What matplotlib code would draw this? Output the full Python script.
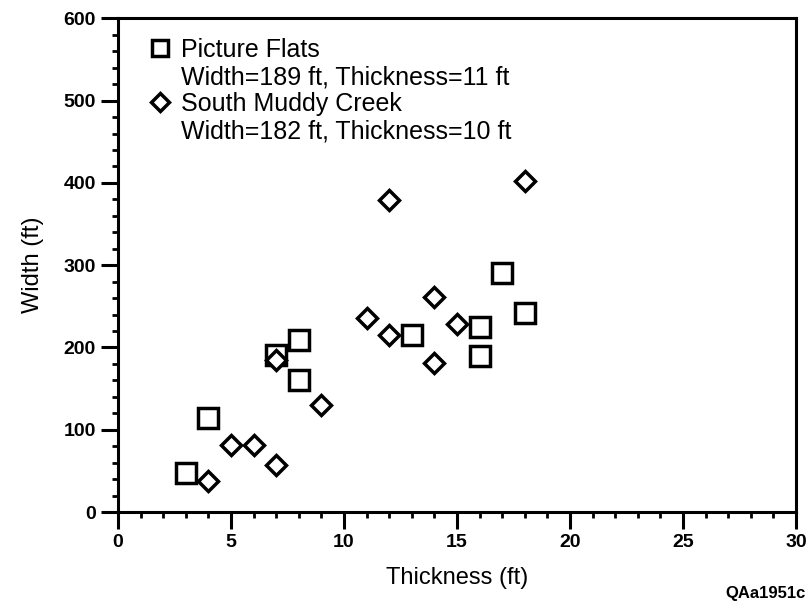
import matplotlib
matplotlib.use("Agg")
import matplotlib.pyplot as plt
from matplotlib.lines import Line2D
from matplotlib.ticker import MultipleLocator

# Picture Flats (squares)
pf_thick = [3, 4, 7, 8, 8, 13, 16, 16, 17, 18]
pf_width = [48, 114, 191, 209, 160, 215, 225, 190, 290, 242]

# South Muddy Creek (diamonds)
smc_thick = [4, 5, 6, 7, 7, 9, 11, 12, 12, 14, 14, 15, 18]
smc_width = [38, 81, 81, 57, 185, 130, 236, 379, 215, 261, 181, 228, 402]

legend_labels = ["Picture Flats", "Width=189 ft, Thickness=11 ft",
                 "South Muddy Creek", "Width=182 ft, Thickness=10 ft"]

plt.rcParams['font.family'] = ['Liberation Sans', 'DejaVu Sans']

fig = plt.figure(figsize=(8.09, 6.05), dpi=100)
ax = fig.add_axes([0.1459, 0.1537, 0.838, 0.816])

ax.plot(pf_thick, pf_width, 's', ms=14, mfc='white', mec='black', mew=2.5,
        linestyle='none')
ax.plot(smc_thick, smc_width, 'D', ms=10, mfc='white', mec='black', mew=2.5,
        linestyle='none')

ax.set_xlim(0, 30)
ax.set_ylim(0, 600)
ax.xaxis.set_major_locator(MultipleLocator(5))
ax.xaxis.set_minor_locator(MultipleLocator(1))
ax.yaxis.set_major_locator(MultipleLocator(100))
ax.yaxis.set_minor_locator(MultipleLocator(20))
ax.tick_params(which='major', direction='out', length=12, width=2.2,
               labelsize=14, pad=4)
ax.tick_params(which='minor', direction='out', length=4, width=2)
for lab in ax.get_xticklabels() + ax.get_yticklabels():
    lab.set_fontweight('bold')
for s in ax.spines.values():
    s.set_linewidth(2.2)

ax.set_xlabel("Thickness (ft)", fontsize=17, labelpad=11)
ax.set_ylabel("Width (ft)", fontsize=17, labelpad=14)

blank = Line2D([], [], linestyle='none', marker='none')
handles = [
    Line2D([], [], marker='s', ms=12, mfc='white', mec='black', mew=2.5, linestyle='none'),
    blank,
    Line2D([], [], marker='D', ms=9, mfc='white', mec='black', mew=2.5, linestyle='none'),
    blank,
]
ax.legend(handles, legend_labels, loc='upper left', frameon=False,
          fontsize=18, handlelength=0.8, handletextpad=0.45, labelspacing=0.12,
          borderaxespad=0.0, bbox_to_anchor=(0.032, 0.98))

fig.text(0.996, 0.006, "QAa1951c", ha='right', va='bottom', fontsize=12,
         fontweight='bold')

fig.savefig("out.png", dpi=100)
